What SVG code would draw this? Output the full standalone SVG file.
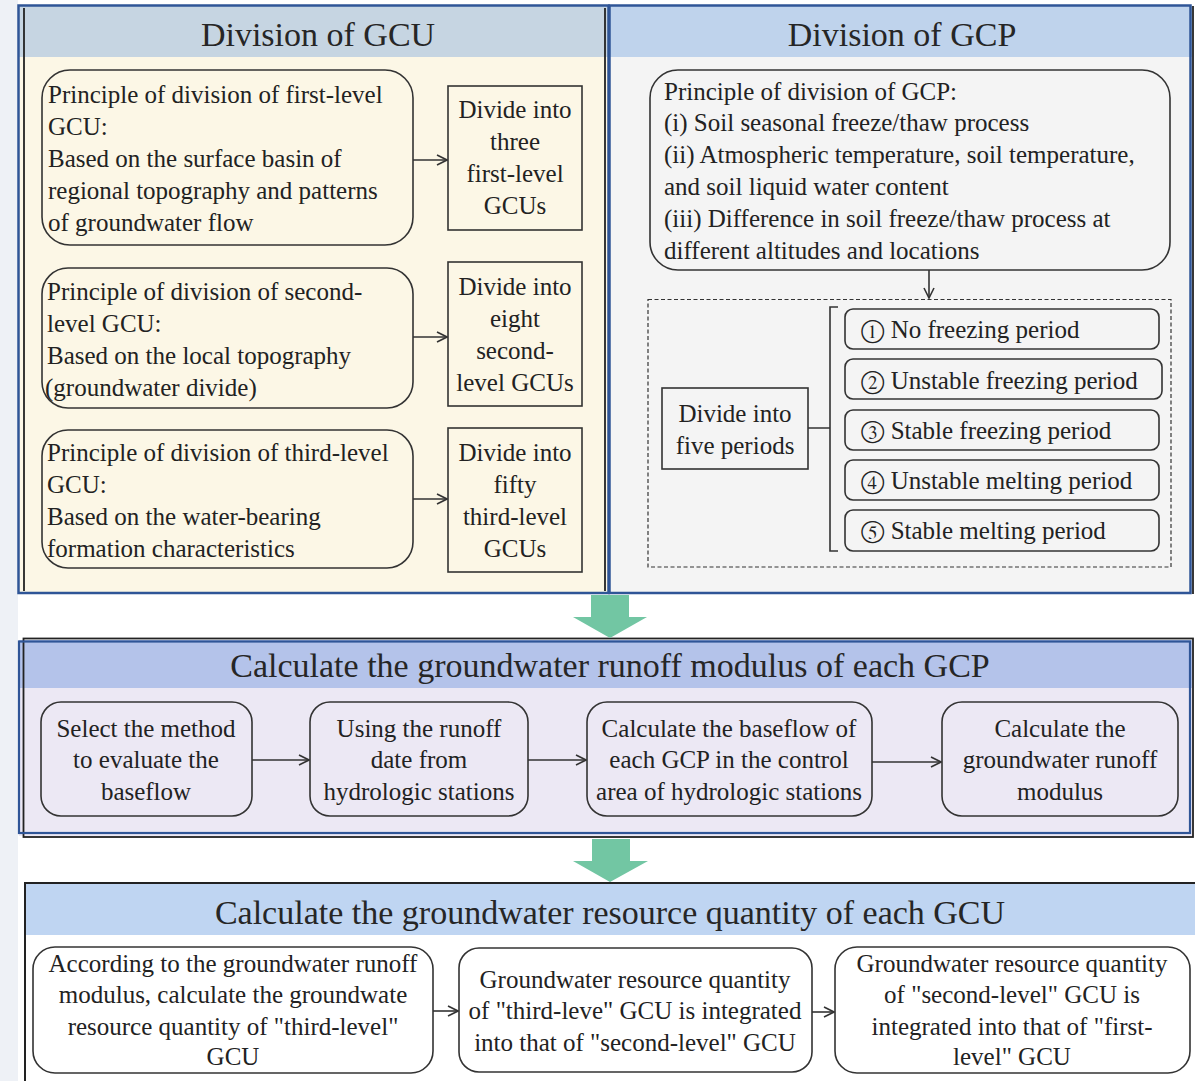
<svg xmlns="http://www.w3.org/2000/svg" width="1195" height="1081" viewBox="0 0 1195 1081" xml:space="preserve">
<style>
text{font-family:"Liberation Serif",Tinos,"Times New Roman",Times,"Noto Serif","DejaVu Serif",FreeSerif,serif;fill:#222;}
.t{font-size:25px;}
.c{text-anchor:middle;}
.h{font-size:34px;text-anchor:middle;fill:#262626;}
.box{fill:none;stroke:#333;stroke-width:1.6;}
.con{stroke:#333;stroke-width:1.6;fill:none;}
.green{fill:#72c6a3;}
.blue{fill:none;stroke:#2f5597;stroke-width:2.5;}
.dark{fill:none;stroke:#222;stroke-width:1.8;}
</style>
<defs>
<marker id="ah" viewBox="0 0 12 12" refX="11" refY="6" markerWidth="12" markerHeight="12" markerUnits="userSpaceOnUse" orient="auto">
<path d="M1,1 L11,6 L1,11" fill="none" stroke="#333" stroke-width="1.6"/>
</marker>
</defs>
<rect x="0" y="0" width="1195" height="1081" fill="#ffffff"/>
<rect x="0" y="0" width="18" height="1081" fill="#eef1f6"/>

<g id="panel-gcu">
<rect x="19" y="6" width="589" height="587" fill="#fcf7e6"/>
<rect x="19" y="6" width="589" height="51" fill="#c6d5e2"/>
<rect class="blue" x="18.5" y="5.5" width="590" height="587.5"/>
<line class="dark" x1="24" y1="8" x2="24" y2="591"/>
<line class="dark" x1="605" y1="8" x2="605" y2="591"/>
<text class="h" x="318" y="46">Division of GCU</text>
</g>

<g id="panel-gcp">
<rect x="609" y="6" width="583" height="587" fill="#f4f4f4"/>
<rect x="609" y="6" width="583" height="51" fill="#bfd3ec"/>
<path class="blue" d="M609.5,5.5 H1190.5 V593 H609.5 Z"/>
<line class="dark" x1="1193" y1="6" x2="1193" y2="594"/>
<text class="h" x="902" y="46">Division of GCP</text>
</g>

<g id="n-first">
<rect class="box" x="42" y="70" width="371" height="175" rx="28"/>
<text class="t" x="48" y="103">Principle of division of first-level</text>
<text class="t" x="48" y="135">GCU:</text>
<text class="t" x="48" y="167">Based on the surface basin of</text>
<text class="t" x="48" y="199">regional topography and patterns</text>
<text class="t" x="48" y="231">of groundwater flow</text>
</g>
<g id="n-first-div">
<rect class="box" x="448" y="86" width="134" height="144"/>
<text class="t c" x="515" y="118">Divide into</text>
<text class="t c" x="515" y="150">three</text>
<text class="t c" x="515" y="182">first-level</text>
<text class="t c" x="515" y="214">GCUs</text>
</g>
<g id="n-second">
<rect class="box" x="42" y="268" width="371" height="140" rx="26"/>
<text class="t" x="47" y="300">Principle of division of second-</text>
<text class="t" x="47" y="332">level GCU:</text>
<text class="t" x="47" y="364">Based on the local topography</text>
<text class="t" x="45" y="396">(groundwater divide)</text>
</g>
<g id="n-second-div">
<rect class="box" x="448" y="262" width="134" height="144"/>
<text class="t c" x="515" y="295">Divide into</text>
<text class="t c" x="515" y="327">eight</text>
<text class="t c" x="515" y="359">second-</text>
<text class="t c" x="515" y="391">level GCUs</text>
</g>
<g id="n-third">
<rect class="box" x="42" y="430" width="371" height="138" rx="26"/>
<text class="t" x="47" y="461">Principle of division of third-level</text>
<text class="t" x="47" y="493">GCU:</text>
<text class="t" x="47" y="525">Based on the water-bearing</text>
<text class="t" x="47" y="557">formation characteristics</text>
</g>
<g id="n-third-div">
<rect class="box" x="448" y="428" width="134" height="144"/>
<text class="t c" x="515" y="461">Divide into</text>
<text class="t c" x="515" y="493">fifty</text>
<text class="t c" x="515" y="525">third-level</text>
<text class="t c" x="515" y="557">GCUs</text>
</g>

<g id="n-gcp-principle">
<rect class="box" x="650" y="70" width="520" height="200" rx="28"/>
<text class="t" x="664" y="100">Principle of division of GCP:</text>
<text class="t" x="664" y="131">(i) Soil seasonal freeze/thaw process</text>
<text class="t" x="664" y="163">(ii) Atmospheric temperature, soil temperature,</text>
<text class="t" x="664" y="195">and soil liquid water content</text>
<text class="t" x="664" y="227">(iii) Difference in soil freeze/thaw process at</text>
<text class="t" x="664" y="259">different  altitudes and locations</text>
</g>
<g id="n-periods-group">
<rect x="648" y="299.5" width="523" height="267.5" fill="none" stroke="#333" stroke-width="1.2" stroke-dasharray="4,2.5"/>
</g>
<g id="n-five">
<rect class="box" x="662" y="388" width="146" height="81"/>
<text class="t c" x="735" y="422">Divide into</text>
<text class="t c" x="735" y="454">five  periods</text>
</g>
<g id="n-p1">
<rect class="box" x="845" y="309" width="314" height="40" rx="8"/>
<text class="t" x="861" y="338">① No freezing period</text>
</g>
<g id="n-p2">
<rect class="box" x="845" y="359" width="317" height="40" rx="8"/>
<text class="t" x="861" y="389">② Unstable freezing period</text>
</g>
<g id="n-p3">
<rect class="box" x="845" y="410" width="314" height="40" rx="8"/>
<text class="t" x="861" y="439">③ Stable freezing period</text>
</g>
<g id="n-p4">
<rect class="box" x="845" y="460" width="314" height="40" rx="8"/>
<text class="t" x="861" y="489">④ Unstable melting period</text>
</g>
<g id="n-p5">
<rect class="box" x="845" y="510" width="314" height="41" rx="8"/>
<text class="t" x="861" y="539">⑤ Stable melting period</text>
</g>

<g id="panel-runoff">
<rect x="19" y="640" width="1173" height="196" fill="#ece8f4"/>
<rect x="19" y="640" width="1173" height="48" fill="#b4c3ea"/>
<rect class="dark" x="23.5" y="638.5" width="1169.5" height="198.5"/>
<rect class="blue" x="19" y="641.5" width="1171" height="191.5" style="stroke-width:2.2"/>
<text class="h" x="610" y="677">Calculate the groundwater runoff modulus of each GCP</text>
</g>
<g id="n-select">
<rect class="box" x="41" y="702" width="211" height="114" rx="20"/>
<text class="t c" x="146" y="737">Select the method</text>
<text class="t c" x="146" y="768">to evaluate the</text>
<text class="t c" x="146" y="800">baseflow</text>
</g>
<g id="n-using">
<rect class="box" x="310" y="702" width="218" height="114" rx="20"/>
<text class="t c" x="419" y="737">Using the runoff</text>
<text class="t c" x="419" y="768">date from</text>
<text class="t c" x="419" y="800">hydrologic stations</text>
</g>
<g id="n-baseflow">
<rect class="box" x="587" y="702" width="285" height="114" rx="20"/>
<text class="t c" x="729" y="737">Calculate the baseflow of</text>
<text class="t c" x="729" y="768">each GCP in the control</text>
<text class="t c" x="729" y="800">area of hydrologic stations</text>
</g>
<g id="n-modulus">
<rect class="box" x="942" y="702" width="236" height="114" rx="20"/>
<text class="t c" x="1060" y="737">Calculate the</text>
<text class="t c" x="1060" y="768">groundwater runoff</text>
<text class="t c" x="1060" y="800">modulus</text>
</g>

<g id="panel-resource">
<rect x="25" y="883" width="1170" height="198" fill="#ffffff"/>
<rect x="25" y="883" width="1170" height="52" fill="#bfd5f2"/>
<path d="M1195,883 H25 V1081" fill="none" stroke="#222" stroke-width="2"/>
<text class="h" x="610" y="924">Calculate the groundwater resource quantity of each GCU</text>
</g>
<g id="n-third-qty">
<rect class="box" x="33" y="947" width="400" height="126" rx="22"/>
<text class="t c" x="233" y="972">According to the groundwater runoff</text>
<text class="t c" x="233" y="1003">modulus, calculate the  groundwate</text>
<text class="t c" x="233" y="1035">resource  quantity of "third-level"</text>
<text class="t c" x="233" y="1065">GCU</text>
</g>
<g id="n-second-qty">
<rect class="box" x="459" y="948" width="353" height="124" rx="20"/>
<text class="t c" x="635" y="988">Groundwater resource quantity</text>
<text class="t c" x="635" y="1019">of "third-leve" GCU is integrated</text>
<text class="t c" x="635" y="1051">into that of "second-level" GCU</text>
</g>
<g id="n-first-qty">
<rect class="box" x="835" y="947" width="355" height="126" rx="22"/>
<text class="t c" x="1012" y="972">Groundwater resource quantity</text>
<text class="t c" x="1012" y="1003">of "second-level" GCU is</text>
<text class="t c" x="1012" y="1035">integrated into that of "first-</text>
<text class="t c" x="1012" y="1065">level" GCU</text>
</g>

<g id="connectors">
<line class="con" x1="413" y1="160" x2="447" y2="160" marker-end="url(#ah)"/>
<line class="con" x1="413" y1="337" x2="447" y2="337" marker-end="url(#ah)"/>
<line class="con" x1="413" y1="499" x2="447" y2="499" marker-end="url(#ah)"/>
<line class="con" x1="929" y1="270" x2="929" y2="298" marker-end="url(#ah)"/>
<path class="con" d="M808,428 H830 M838,307 H830 V551 H838"/>
<line class="con" x1="252" y1="760" x2="309" y2="760" marker-end="url(#ah)"/>
<line class="con" x1="528" y1="760" x2="586" y2="760" marker-end="url(#ah)"/>
<line class="con" x1="872" y1="762" x2="941" y2="762" marker-end="url(#ah)"/>
<line class="con" x1="433" y1="1011" x2="458" y2="1011" marker-end="url(#ah)"/>
<line class="con" x1="812" y1="1012" x2="834" y2="1012" marker-end="url(#ah)"/>
<polygon class="green" points="591,595 629,595 629,617 647,617 610,638 573,617 591,617"/>
<polygon class="green" points="592,839 630,839 630,861 648,861 610,882 573,861 592,861"/>
</g>
</svg>
